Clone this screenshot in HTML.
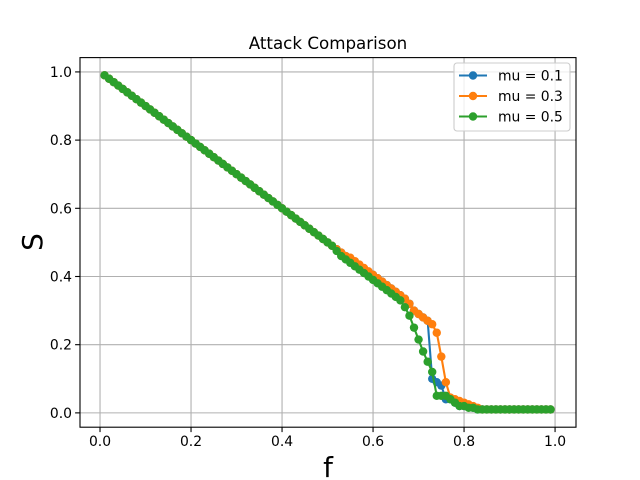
<!DOCTYPE html>
<html><head><meta charset="utf-8">
<style>
html,body{margin:0;padding:0;background:#fff;}
svg{display:block;font-family:"DejaVu Sans","Liberation Sans",sans-serif;}
</style></head>
<body>
<svg id="chart" width="640" height="480" viewBox="0 0 640 480"></svg>
<script>
const fValues = [0.01,0.02,0.03,0.04,0.05,0.06,0.07,0.08,0.09,0.10,
0.11,0.12,0.13,0.14,0.15,0.16,0.17,0.18,0.19,0.20,
0.21,0.22,0.23,0.24,0.25,0.26,0.27,0.28,0.29,0.30,
0.31,0.32,0.33,0.34,0.35,0.36,0.37,0.38,0.39,0.40,
0.41,0.42,0.43,0.44,0.45,0.46,0.47,0.48,0.49,0.50,
0.51,0.52,0.53,0.54,0.55,0.56,0.57,0.58,0.59,0.60,
0.61,0.62,0.63,0.64,0.65,0.66,0.67,0.68,0.69,0.70,
0.71,0.72,0.73,0.74,0.75,0.76,0.77,0.78,0.79,0.80,
0.81,0.82,0.83,0.84,0.85,0.86,0.87,0.88,0.89,0.90,
0.91,0.92,0.93,0.94,0.95,0.96,0.97,0.98,0.99];
const sMu01 = [0.99,0.98,0.97,0.96,0.95,0.94,0.93,0.92,0.91,0.90,
0.89,0.88,0.87,0.86,0.85,0.84,0.83,0.82,0.81,0.80,
0.79,0.78,0.77,0.76,0.75,0.74,0.73,0.72,0.71,0.70,
0.69,0.68,0.67,0.66,0.65,0.64,0.63,0.62,0.61,0.60,
0.59,0.58,0.57,0.56,0.55,0.54,0.53,0.52,0.51,0.50,
0.49,0.48,0.47,0.46,0.45,0.44,0.43,0.42,0.41,0.405,
0.395,0.385,0.375,0.365,0.355,0.345,0.335,0.32,0.30,0.29,
0.28,0.27,0.10,0.09,0.08,0.04,0.04,0.03,0.02,0.02,
0.02,0.015,0.01,0.01,0.01,0.01,0.01,0.01,0.01,0.01,
0.01,0.01,0.01,0.01,0.01,0.01,0.01,0.01,0.01];
const sMu03 = [0.99,0.98,0.97,0.96,0.95,0.94,0.93,0.92,0.91,0.90,
0.89,0.88,0.87,0.86,0.85,0.84,0.83,0.82,0.81,0.80,
0.79,0.78,0.77,0.76,0.75,0.74,0.73,0.72,0.71,0.70,
0.69,0.68,0.67,0.66,0.65,0.64,0.63,0.62,0.61,0.60,
0.59,0.58,0.57,0.56,0.55,0.54,0.53,0.52,0.51,0.50,
0.49,0.48,0.47,0.46,0.455,0.445,0.435,0.425,0.415,0.405,
0.395,0.385,0.375,0.365,0.355,0.345,0.335,0.32,0.30,0.29,
0.28,0.27,0.26,0.235,0.165,0.09,0.045,0.04,0.035,0.03,
0.025,0.02,0.015,0.01,0.01,0.01,0.01,0.01,0.01,0.01,
0.01,0.01,0.01,0.01,0.01,0.01,0.01,0.01,0.01];
const sMu05 = [0.99,0.98,0.97,0.96,0.95,0.94,0.93,0.92,0.91,0.90,
0.89,0.88,0.87,0.86,0.85,0.84,0.83,0.82,0.81,0.80,
0.79,0.78,0.77,0.76,0.75,0.74,0.73,0.72,0.71,0.70,
0.69,0.68,0.67,0.66,0.65,0.64,0.63,0.62,0.61,0.60,
0.59,0.58,0.57,0.56,0.55,0.54,0.53,0.52,0.51,0.50,
0.49,0.475,0.46,0.45,0.44,0.43,0.42,0.41,0.40,0.39,
0.38,0.37,0.36,0.35,0.34,0.33,0.31,0.285,0.25,0.215,
0.18,0.15,0.12,0.05,0.05,0.05,0.04,0.03,0.02,0.02,
0.015,0.015,0.01,0.01,0.01,0.01,0.01,0.01,0.01,0.01,
0.01,0.01,0.01,0.01,0.01,0.01,0.01,0.01,0.01];
const xTicks = [0, 0.2, 0.4, 0.6, 0.8, 1.0];
const xTickLabels = ["0.0","0.2","0.4","0.6","0.8","1.0"];
const yTicks = [0, 0.2, 0.4, 0.6, 0.8, 1.0];
const yTickLabels = ["0.0","0.2","0.4","0.6","0.8","1.0"];
const seriesNames = ["mu = 0.1","mu = 0.3","mu = 0.5"];
const seriesColors = ["#1f77b4","#ff7f0e","#2ca02c"];

const NS = "http://www.w3.org/2000/svg";
const svg = document.getElementById("chart");
const L = 80, R = 576, T = 57.6, B = 427.2;
const xMin = -0.044, xMax = 1.046, yMin = -0.042, yMax = 1.042;
function xs(v){ return L + (v - xMin) / (xMax - xMin) * (R - L); }
function ys(v){ return B - (v - yMin) / (yMax - yMin) * (B - T); }
function mk(tag, attrs, parent){
  const e = document.createElementNS(NS, tag);
  for (const k in attrs) e.setAttribute(k, attrs[k]);
  (parent || svg).appendChild(e);
  return e;
}

// grid
const grid = mk("g", {});


xTicks.forEach(t => {
  const l = mk("line", {x1: xs(t), x2: xs(t), y1: T, y2: B, stroke: "#b0b0b0", "stroke-width": 1.1}, grid);
  
  
});
yTicks.forEach(t => {
  const l = mk("line", {x1: L, x2: R, y1: ys(t), y2: ys(t), stroke: "#b0b0b0", "stroke-width": 1.1}, grid);
  
  
});

// series
const allSeries = [sMu01, sMu03, sMu05];
allSeries.forEach((vals, si) => {
  const g = mk("g", {});
  
  
  const pts = fValues.map((f, i) => xs(f).toFixed(2) + "," + ys(vals[i]).toFixed(2)).join(" ");
  const pl = mk("polyline", {points: pts, fill: "none", stroke: seriesColors[si], "stroke-width": 2.1, "stroke-linejoin": "round"}, g);
  
  
  fValues.forEach((f, i) => {
    const c = mk("circle", {cx: xs(f), cy: ys(vals[i]), r: 4.2, fill: seriesColors[si]}, g);
    
    
  });
});

// spines
const frame = mk("rect", {x: L, y: T, width: R - L, height: B - T, fill: "none", stroke: "#000", "stroke-width": 1.1});



// ticks
xTicks.forEach((t, i) => {
  const tk = mk("line", {x1: xs(t), x2: xs(t), y1: B, y2: B + 4.9, stroke: "#000", "stroke-width": 1.1});
  
  
  const tx = mk("text", {x: xs(t), y: B + 19, "font-size": 13.9, "text-anchor": "middle", fill: "#000"});
  tx.textContent = xTickLabels[i];
  
  
});
yTicks.forEach((t, i) => {
  const tk = mk("line", {x1: L - 4.9, x2: L, y1: ys(t), y2: ys(t), stroke: "#000", "stroke-width": 1.1});
  
  
  const tx = mk("text", {x: L - 8, y: ys(t) + 5, "font-size": 13.9, "text-anchor": "end", fill: "#000"});
  tx.textContent = yTickLabels[i];
  
  
});

// title & labels
const title = mk("text", {x: 328, y: 49, "font-size": 16.7, "text-anchor": "middle", fill: "#000"});
title.textContent = "Attack Comparison";


const xl = mk("text", {x: 328, y: 477, "font-size": 27.8, "text-anchor": "middle", fill: "#000"});
xl.textContent = "f";


const yl = mk("text", {x: 0, y: 0, "font-size": 27.8, "text-anchor": "middle", fill: "#000", transform: "translate(42,242) rotate(-90)"});
yl.textContent = "S";



// legend
const lg = mk("g", {});


const lbox = mk("rect", {x: 454, y: 63, width: 116, height: 68, rx: 3, fill: "#fff", "fill-opacity": 0.8, stroke: "#cccccc", "stroke-width": 1.1}, lg);


seriesNames.forEach((n, i) => {
  const y = 75.5 + i * 20.5;
  const e = mk("g", {}, lg);
  
  
  mk("line", {x1: 459, x2: 487, y1: y, y2: y, stroke: seriesColors[i], "stroke-width": 2.1}, e);
  mk("circle", {cx: 473, cy: y, r: 4.2, fill: seriesColors[i]}, e);
  const t = mk("text", {x: 498, y: y + 5, "font-size": 13.9, fill: "#000"}, e);
  t.textContent = n;
});
</script>
</body></html>
